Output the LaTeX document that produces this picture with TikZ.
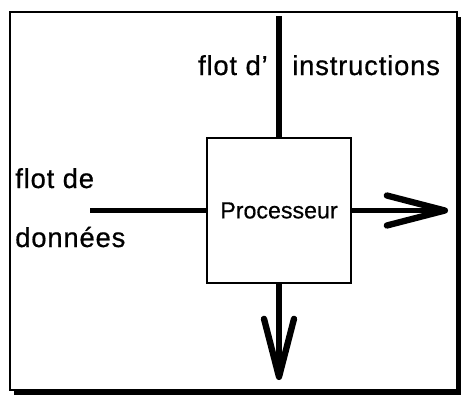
\documentclass[tikz,border=0pt]{standalone}
\usepackage{fontspec}
\setmainfont{Liberation Sans}[FakeBold=0.6]
\usetikzlibrary{arrows.meta}

\tikzset{
    flow/.style={line width=3.6pt},
    barb/.style={-{Straight Barb[length=1.45cm, width=0.75cm, line width=4.5pt, round]}},
    lbl/.style={font=\fontsize{19.5}{23}\selectfont\addfontfeature{LetterSpace=3}, inner sep=0pt},
}

\begin{document}
\begin{tikzpicture}
    \useasboundingbox (0,0) rectangle (11.525,9.975);

    % frame with its shadow
    \fill (0.35,0.1) rectangle (11.525,9.55);
    \draw[fill=white, line width=1pt] (0.25,0.225) rectangle (11.425,9.675);

    \node[draw, line width=1pt, minimum width=3.6cm, minimum height=3.625cm,
          font=\fontsize{16.5}{19}\selectfont] (proc) at (6.975,4.7125) {Processeur};

    \coordinate (instr) at (6.975,9.575);
    \coordinate (data) at (2.25,4.7125);
    \coordinate (res) at (11.2,4.7125);
    \coordinate (out) at (6.975,0.475);

    \draw[flow] (instr) -- (proc.north);
    \draw[flow] (data) -- (proc.west);
    \draw[flow, barb] (proc.east) -- (res);
    \draw[flow, barb] (proc.south) -- (out);

    \node[lbl, anchor=base east] (flotd) at (6.7,8.1) {flot d'};
    \node[lbl, anchor=base west] (instrlbl) at (7.3,8.1) {instructions};
    \node[lbl, anchor=base west] (flotde) at (0.375,5.275) {flot de};
    \node[lbl, anchor=base west] (donnees) at (0.375,3.8) {données};
\end{tikzpicture}
\end{document}
